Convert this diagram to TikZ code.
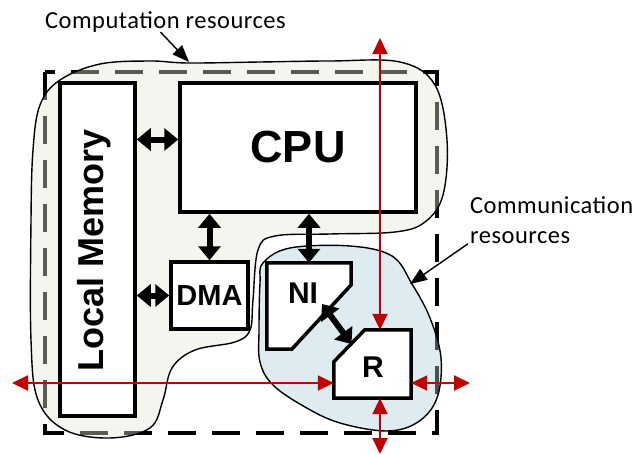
\documentclass[tikz,border=0pt]{standalone}
\usepackage{fontspec}
\setmainfont{Carlito}[LetterSpace=2]
\newfontfamily\boxfont{Liberation Sans}
\usepackage{xcolor}
\usetikzlibrary{arrows.meta,calc}
\definecolor{compGreen}{RGB}{226,232,212}
\definecolor{commBlue}{RGB}{172,208,222}
\definecolor{linkRed}{HTML}{C00000}

\begin{document}
\begin{tikzpicture}[x=1pt,y=-1pt,font=\fontsize{24.5}{30}\selectfont,
  unit/.style={draw,line width=3.5pt,fill=white,inner sep=0pt,font=\boxfont\bfseries\fontsize{29}{32}\selectfont},
  biarrow/.style={line width=6pt,{Triangle[length=14pt,width=22pt]}-{Triangle[length=14pt,width=22pt]}},
  redlink/.style={draw=linkRed,line width=2pt,{Triangle[length=16pt,width=15pt]}-{Triangle[length=16pt,width=15pt]},linkRed},
  pointer/.style={line width=1.4pt,-{Triangle[length=17pt,width=13pt]}},
  blob/.style={line width=1.4pt,fill opacity=0.4}]
\useasboundingbox (0,0) rectangle (633,455);
% dashed tile border, seen through the regions
\draw[line width=3.5pt,dash pattern=on 28pt off 16pt] (45,72) rectangle (437,433);
% computation region
\draw[blob,fill=compGreen] plot[smooth cycle,tension=0.6] coordinates {
  (60,80) (100,64) (150,61) (188,63) (260,62) (330,61) (400,62) (435,85)
  (447,140) (443,195) (425,222) (395,232) (330,234) (275,236) (258,250)
  (253,300) (250,330) (235,342) (195,350) (172,368) (163,400) (150,428)
  (110,438) (65,430) (38,400) (31,340) (31,220) (33,150) (40,105)};
% communication region
\draw[blob,fill=commBlue] plot[smooth cycle,tension=0.6] coordinates {
  (263,263) (290,248) (350,246) (392,256) (412,284) (430,318) (441,358)
  (437,398) (418,422) (387,431) (340,423) (305,407) (273,385) (260,362)
  (259,330) (260,283)};
% blocks
\node[unit,minimum width=75,minimum height=333] (lm) at (97.5,249.5) {};
\node[rotate=90,font=\boxfont\bfseries\fontsize{36}{40}\selectfont] (lmlabel) at (94,250) {Local Memory};
\node[unit,minimum width=236,minimum height=129,font=\boxfont\bfseries\fontsize{45}{50}\selectfont] (cpu) at (298,147.5) {CPU};
\node[unit,minimum width=77,minimum height=67] (dma) at (209.5,295.5) {DMA};
\path node[minimum width=84,minimum height=86,inner sep=0pt] (ni) at (309,306) {}
      node[minimum width=77,minimum height=68,inner sep=0pt] (r) at (372.5,364) {};
\draw[unit] (ni.north west) -- (ni.north east) -- ($(ni.north east)+(0,22)$)
  -- ($(ni.south west)+(25,0)$) -- (ni.south west) -- cycle;
\draw[unit] ($(r.north west)+(31,0)$) -- (r.north east) -- (r.south east)
  -- (r.south west) -- ($(r.north west)+(0,32)$) -- cycle;
\node[font=\boxfont\bfseries\fontsize{30}{33}\selectfont] (nilabel) at (303,293) {NI};
\node[font=\boxfont\bfseries\fontsize{30}{33}\selectfont] (rlabel) at (373,367) {R};
% local links
\coordinate (cpuw) at ($(cpu.west)+(0,-8)$);
\draw[biarrow] (lm.east |- cpuw) -- (cpuw);
\draw[biarrow] (lm.east |- dma.west) -- (dma.west);
\draw[biarrow] (dma.north |- cpu.south) -- (dma.north);
\draw[biarrow] (ni.north |- cpu.south) -- (ni.north);
\draw[biarrow] ($(ni.north east)!0.5!(ni.south west)+(13,-2)$) coordinate (nid)
  -- ($(r.north west)!0.5!(r.south east)+(-21,-20)$) coordinate (rd);
% router ports
\coordinate (northend) at (380,38);
\coordinate (southend) at (380,454);
\coordinate (westend) at (12,383);
\coordinate (eastend) at (470,383);
\draw[redlink] (northend) -- (northend |- r.north);
\draw[redlink] (r.south -| southend) -- (southend);
\draw[redlink] (westend) -- (westend -| r.west);
\draw[redlink] (r.east |- eastend) -- (eastend);
% labels
\node[anchor=base west,inner sep=0pt] (complabel) at (45,28) {Computation resources};
\coordinate (comptip) at (189,62);
\draw[pointer] ($(complabel.south)+(-5,0)$) -- (comptip);
\node[anchor=west,align=left,inner sep=0pt] (commlabel) at (470,220) {Communication\\resources};
\coordinate (commtip) at (410,284);
\draw[pointer] ($(commlabel.south west)+(-2,0)$) -- (commtip);
\end{tikzpicture}
\end{document}
